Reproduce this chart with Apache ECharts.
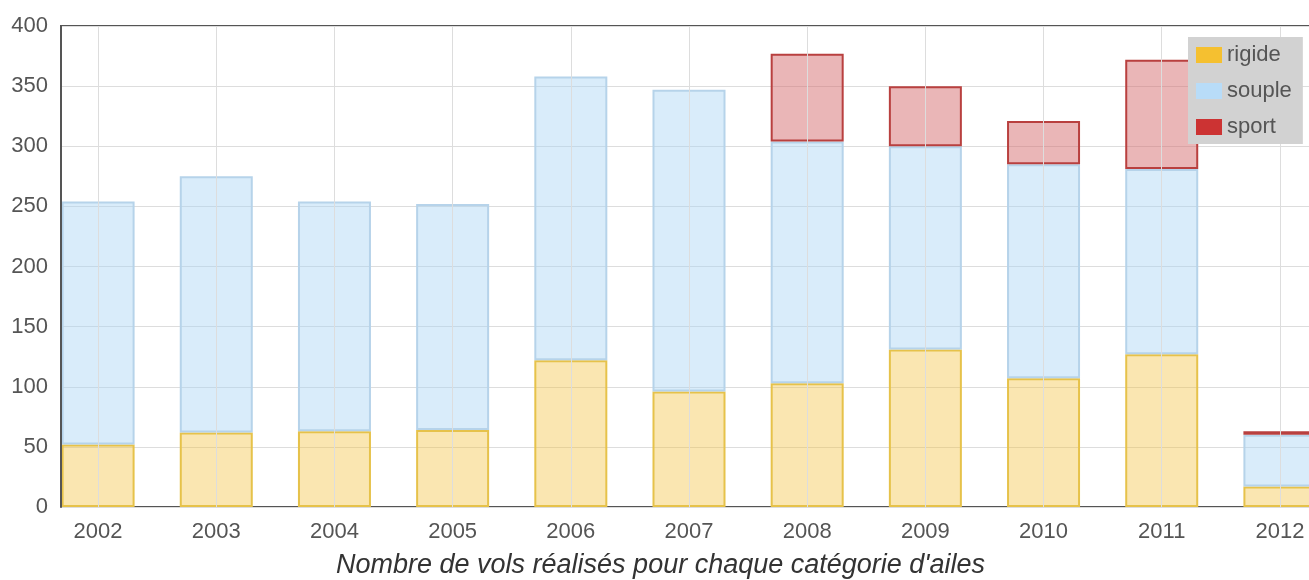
<!doctype html>
<html>
<head>
<meta charset="UTF-8">
<title>vols</title>
<script src="https://cdn.jsdelivr.net/npm/echarts@6/dist/echarts.min.js"></script>
<style>
  html, body { margin: 0; padding: 0; background: #fff; overflow: hidden; }
  #main { width: 1340px; height: 580px; }
</style>
</head>
<body>
<div id="main"></div>
<script>
// valeurs
var annees = ['2002', '2003', '2004', '2005', '2006', '2007', '2008', '2009', '2010', '2011', '2012'];
var rigide = [52, 62, 63, 64, 122, 96, 103, 131, 107, 127, 17];
var souple = [202, 213, 191, 188, 236, 251, 201, 169, 178, 154, 43];
var sport  = ['-', '-', '-', '-', '-', '-', 73, 50, 36, 91, 3];

// le graphique d'origine est coupé à droite : la zone dépasse la fenêtre
var police = 'Liberation Sans, Arial, sans-serif';
var chart = echarts.init(document.getElementById('main'));
chart.setOption({
  animation: false,
  textStyle: { fontFamily: police },
  title: {
    text: "Nombre de vols réalisés pour chaque catégorie d'ailes",
    left: 331,
    top: 547,
    textStyle: { fontFamily: police, fontSize: 27, fontStyle: 'italic', fontWeight: 'normal', color: '#333' }
  },
  legend: {
    orient: 'vertical',
    left: 1188,
    top: 37,
    z: 10,
    padding: [7, 11, 6, 8],
    backgroundColor: '#d2d2d2',
    itemWidth: 26,
    itemHeight: 16,
    itemGap: 14,
    icon: 'rect',
    textStyle: { color: '#555', fontSize: 22, fontFamily: police },
    data: [
      { name: 'rigide', itemStyle: { color: '#f5c030', borderWidth: 0 } },
      { name: 'souple', itemStyle: { color: '#b8dcf8', borderWidth: 0 } },
      { name: 'sport', itemStyle: { color: '#cc3333', borderWidth: 0 } }
    ]
  },
  grid: {
    left: 39, width: 1300, top: 26, bottom: 73,
    show: true, borderColor: '#555', borderWidth: 2, z: 0
  },
  graphic: [{
    type: 'rect', z: 1, silent: true,
    shape: { x: 0, y: 0, width: 60, height: 545 },
    style: { fill: '#fff' }
  }],
  xAxis: {
    type: 'category',
    data: annees,
    z: 0,
    axisLine: { show: false },
    axisTick: { show: false },
    axisLabel: { color: '#555', fontSize: 22, margin: 14 },
    splitLine: { show: false }
  },
  yAxis: [{
    type: 'value',
    position: 'left',
    min: 0, max: 400, interval: 50,
    z: 0,
    axisLine: { show: false },
    axisTick: { show: false },
    axisLabel: { show: false },
    splitLine: { lineStyle: { color: '#ddd', width: 1 } }
  }, {
    type: 'value',
    position: 'left',
    min: 0, max: 400, interval: 50,
    offset: -22,
    z: 3,
    axisLine: { show: true, lineStyle: { color: '#555', width: 2 } },
    axisTick: { show: false },
    axisLabel: { color: '#555', fontSize: 22, margin: 13 },
    splitLine: { show: false }
  }],
  series: [
    { name: 'grille', type: 'line', data: [], z: 1, silent: true,
      markLine: {
        silent: true, symbol: 'none', label: { show: false },
        lineStyle: { color: '#ddd', width: 1, type: 'solid' },
        data: annees.map(function (a) { return { xAxis: a }; })
      } },
    { name: 'rigide', type: 'bar', stack: 'total', barWidth: 73, data: rigide,
      itemStyle: { color: 'rgba(242,196,70,0.42)', borderColor: '#e6c24a', borderWidth: 2 } },
    { name: 'souple', type: 'bar', stack: 'total', barWidth: 73, data: souple,
      itemStyle: { color: 'rgba(170,212,244,0.45)', borderColor: '#b6d3ea', borderWidth: 2 } },
    { name: 'sport', type: 'bar', stack: 'total', barWidth: 73, data: sport,
      itemStyle: { color: 'rgba(214,110,112,0.5)', borderColor: '#b9403f', borderWidth: 2 } }
  ]
});
</script>
</body>
</html>
